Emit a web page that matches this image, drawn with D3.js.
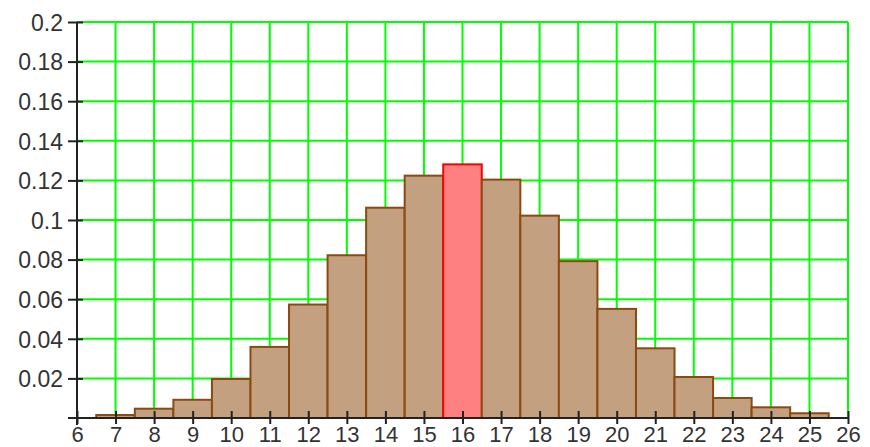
<!DOCTYPE html>
<html><head><meta charset="utf-8">
<script src="https://cdn.jsdelivr.net/npm/d3@7"></script>
<style>body{margin:0;background:#fff}svg{display:block}</style>
</head><body>
<script>
const categories = [7,8,9,10,11,12,13,14,15,16,17,18,19,20,21,22,23,24,25];
const values = [0.0015,0.0047,0.0092,0.0197,0.0359,0.0573,0.0822,0.1062,0.1224,0.1281,0.1204,0.1022,0.0792,0.0551,0.0352,0.0207,0.0101,0.0054,0.0024];
const highlight = 16;
const xTicks = [6,7,8,9,10,11,12,13,14,15,16,17,18,19,20,21,22,23,24,25,26];
const yTicks = [0.02,0.04,0.06,0.08,0.1,0.12,0.14,0.16,0.18,0.2];
const yTickLabels = ["0.02","0.04","0.06","0.08","0.1","0.12","0.14","0.16","0.18","0.2"];

const W = 870, H = 447;
const svg = d3.select("body").append("svg").attr("width", W).attr("height", H);
const x = d3.scaleLinear().domain([6, 26]).range([77, 848]);
const y = d3.scaleLinear().domain([0, 0.2]).range([418, 22]);
const FONT = "Liberation Sans, Arial, sans-serif";

// grid
const g = svg.append("g");
g.selectAll("line.v").data(xTicks.slice(1)).enter().append("line")
  .attr("x1", d => x(d)).attr("x2", d => x(d)).attr("y1", y(0)).attr("y2", y(0.2))
  .attr("stroke", "#00ff00").attr("stroke-width", 2);
g.selectAll("line.h").data(yTicks).enter().append("line")
  .attr("x1", x(6)).attr("x2", x(26)).attr("y1", d => y(d)).attr("y2", d => y(d))
  .attr("stroke", "#00ff00").attr("stroke-width", 2);

// bars
svg.append("g").selectAll("rect").data(categories).enter().append("rect")
  .attr("x", d => x(d - 0.5))
  .attr("width", d => x(d + 0.5) - x(d - 0.5))
  .attr("y", (d, i) => y(values[i]))
  .attr("height", (d, i) => y(0) - y(values[i]))
  .attr("fill", d => d === highlight ? "#ff8080" : "#c2a080")
  .attr("stroke", d => d === highlight ? "#ff0000" : "#8a4a10")
  .attr("stroke-width", 2);

// axes
const yAxis = d3.axisLeft(y).tickValues(yTicks).tickFormat((d, i) => yTickLabels[i]).tickSize(8).tickSizeOuter(0);
const ya = svg.append("g").attr("transform", `translate(${x(6)},0)`).call(yAxis);
ya.select(".domain").remove();
ya.selectAll(".tick line").attr("x1", -9).attr("x2", 6).attr("stroke", "#222").attr("stroke-width", 2);
ya.selectAll(".tick text").attr("x", -14).attr("dy", "0.36em").attr("font-family", FONT).attr("font-size", 23).attr("fill", "#333");
ya.append("line").attr("x1", 0).attr("x2", 0).attr("y1", y(0.2)).attr("y2", y(0) + 7).attr("stroke", "#222").attr("stroke-width", 2);

const xAxis = d3.axisBottom(x).tickValues(xTicks).tickFormat(d3.format("d")).tickSize(7).tickSizeOuter(0);
const xa = svg.append("g").attr("transform", `translate(0,${y(0)})`).call(xAxis);
xa.select(".domain").remove();
xa.selectAll(".tick line").attr("y1", -7).attr("y2", 6).attr("stroke", "#222").attr("stroke-width", 2);
xa.selectAll(".tick text").attr("y", 8).attr("font-family", FONT).attr("font-size", 22).attr("fill", "#333");
xa.append("line").attr("x1", x(6) - 9).attr("x2", x(26)).attr("y1", 0).attr("y2", 0).attr("stroke", "#222").attr("stroke-width", 2);
</script>
</body></html>
